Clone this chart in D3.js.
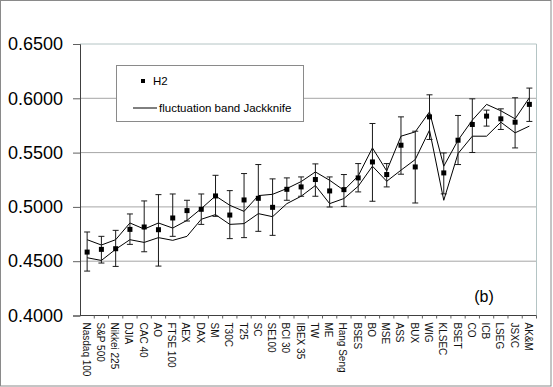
<!DOCTYPE html>
<html>
<head>
<meta charset="utf-8">
<script src="https://cdn.jsdelivr.net/npm/d3@7"></script>
<style>
  body { margin: 0; background: #fff; }
  svg { display: block; font-family: Arial, "Liberation Sans", sans-serif; }
</style>
</head>
<body>
<div id="chart"></div>
<script>
'use strict'

////////////////////////////////////
/////////////// data ///////////////
////////////////////////////////////

const markets = ['Nasdaq 100', 'S&P 500', 'Nikkei 225', 'DJIA', 'CAC 40', 'AO', 'FTSE 100', 'AEX', 'DAX', 'SM',
    'T30C', 'T25', 'SC', 'SE100', 'BCI 30', 'IBEX 35', 'TW', 'ME', 'Hang Seng', 'BSES', 'BO', 'MSE',
    'ASS', 'BUX', 'WIG', 'KLSEC', 'BSET', 'CO', 'ICB', 'LSEG', 'JSXC', 'AK&M']

// H2 point estimate
const h2 = [0.4584, 0.4609, 0.4615, 0.4793, 0.4815, 0.4790, 0.4898, 0.4966, 0.4978, 0.5101,
    0.4925, 0.5064, 0.5079, 0.4996, 0.5162, 0.5184, 0.5252, 0.5147, 0.5159, 0.5267, 0.5414, 0.5298,
    0.5568, 0.5368, 0.5829, 0.5313, 0.5614, 0.5759, 0.5836, 0.5811, 0.5780, 0.5944]

// error bar ends
const errHigh = [0.4769, 0.4729, 0.4784, 0.4935, 0.5055, 0.5113, 0.5119, 0.5061, 0.5119, 0.5291,
    0.5150, 0.5307, 0.5390, 0.5258, 0.5267, 0.5276, 0.5396, 0.5276, 0.5298, 0.5399, 0.5768, 0.5399,
    0.5829, 0.5697, 0.6032, 0.5497, 0.5842, 0.5995, 0.5891, 0.5903, 0.6005, 0.6094]
const errLow = [0.4409, 0.4483, 0.4452, 0.4655, 0.4587, 0.4455, 0.4729, 0.4870, 0.4839, 0.4913,
    0.4708, 0.4717, 0.4775, 0.4738, 0.5061, 0.5098, 0.5098, 0.4999, 0.5005, 0.5138, 0.5052, 0.5184,
    0.5301, 0.5036, 0.5621, 0.5120, 0.5390, 0.5501, 0.5744, 0.5713, 0.5543, 0.5787]

// jackknife fluctuation band
const bandUpper = [0.4698, 0.4649, 0.4698, 0.4852, 0.4796, 0.4852, 0.4805, 0.4876, 0.4984, 0.5101,
    0.5015, 0.4959, 0.5104, 0.5116, 0.5169, 0.5233, 0.5322, 0.5245, 0.5153, 0.5285, 0.5543, 0.5331,
    0.5651, 0.5691, 0.5875, 0.5375, 0.5614, 0.5799, 0.5944, 0.5885, 0.5811, 0.6005]
const bandLower = [0.4532, 0.4507, 0.4610, 0.4698, 0.4673, 0.4717, 0.4692, 0.4729, 0.4886, 0.4929,
    0.4839, 0.4846, 0.4938, 0.4910, 0.5030, 0.5098, 0.5197, 0.5030, 0.5077, 0.5190, 0.5375, 0.5236,
    0.5338, 0.5436, 0.5707, 0.5061, 0.5491, 0.5651, 0.5651, 0.5780, 0.5682, 0.5744]

const yTicks = [0.40, 0.45, 0.50, 0.55, 0.60, 0.65]

////////////////////////////////////
//////////// svg setup /////////////
////////////////////////////////////

const svgWidth = 553, svgHeight = 387
const plot = { left: 80, right: 536.5, top: 44, bottom: 315.5 }

const svg = d3.select('#chart')
    .append('svg')
    .attr('width', svgWidth)
    .attr('height', svgHeight)

// outer frame
svg.append('rect')
    .attr('x', 0.5).attr('y', 0.5)
    .attr('width', 550.5).attr('height', 385.5)
    .attr('fill', 'none')
    .attr('stroke', '#8a8a8a')

const x = d3.scaleBand()
    .domain(markets)
    .range([plot.left, plot.right])

const y = d3.scaleLinear()
    .domain([0.40, 0.65])
    .range([plot.bottom, plot.top])

const cx = d => x(d) + x.bandwidth() / 2

////////////////////////////////////
////////////// axes ////////////////
////////////////////////////////////

// gridlines
svg.append('g')
    .selectAll('line')
    .data(yTicks.filter(t => t > 0.40 && t < 0.65))
    .join('line')
    .attr('x1', plot.left).attr('x2', plot.right)
    .attr('y1', d => y(d)).attr('y2', d => y(d))
    .attr('stroke', '#a6a6a6')

// plot frame top / right
svg.append('path')
    .attr('d', `M${plot.left},${y(0.65)}H${plot.right}V${plot.bottom}`)
    .attr('fill', 'none')
    .attr('stroke', '#b4c4c4')

const yAxis = svg.append('g')
    .attr('transform', `translate(${plot.left},0)`)
    .call(d3.axisLeft(y).tickValues(yTicks).tickFormat(d3.format('.4f')).tickSize(7).tickPadding(10))
yAxis.select('.domain').attr('stroke', '#404040')
yAxis.selectAll('.tick line').attr('stroke', '#606060')
yAxis.selectAll('.tick text')
    .attr('font-size', 18)
    .attr('fill', '#000')
    .attr('font-family', 'Arial, "Liberation Sans", sans-serif')

// x axis with ticks at band boundaries
const xAxis = svg.append('g')
    .attr('transform', `translate(0,${plot.bottom})`)
xAxis.append('line')
    .attr('x1', plot.left).attr('x2', plot.right)
    .attr('stroke', '#404040')
xAxis.selectAll('.bt')
    .data(markets.slice(1).concat(['__end']))
    .join('line')
    .attr('class', 'bt')
    .attr('x1', (d, i) => plot.left + x.step() * (i + 1))
    .attr('x2', (d, i) => plot.left + x.step() * (i + 1))
    .attr('y1', 0).attr('y2', 3)
    .attr('stroke', '#606060')

svg.append('g')
    .selectAll('text')
    .data(markets)
    .join('text')
    .attr('transform', d => `translate(${cx(d) - 1},${plot.bottom + 7}) rotate(90)`)
    .attr('dominant-baseline', 'central')
    .attr('font-size', 10)
    .attr('fill', '#111')
    .text(d => d)

////////////////////////////////////
////////////// marks ///////////////
////////////////////////////////////

const line = d3.line()
    .x((d, i) => cx(markets[i]))
    .y(d => y(d))

svg.selectAll('.band')
    .data([bandUpper, bandLower])
    .join('path')
    .attr('class', 'band')
    .attr('d', line)
    .attr('fill', 'none')
    .attr('stroke', '#000')
    .attr('stroke-width', 1)

const bars = svg.append('g')
    .selectAll('g')
    .data(markets)
    .join('g')
    .attr('stroke', '#1a1a1a')

bars.append('line')
    .attr('x1', d => cx(d)).attr('x2', d => cx(d))
    .attr('y1', (d, i) => y(errHigh[i])).attr('y2', (d, i) => y(errLow[i]))
bars.append('line')
    .attr('x1', d => cx(d) - 3).attr('x2', d => cx(d) + 3)
    .attr('y1', (d, i) => y(errHigh[i])).attr('y2', (d, i) => y(errHigh[i]))
bars.append('line')
    .attr('x1', d => cx(d) - 3).attr('x2', d => cx(d) + 3)
    .attr('y1', (d, i) => y(errLow[i])).attr('y2', (d, i) => y(errLow[i]))

svg.append('g')
    .selectAll('rect')
    .data(markets)
    .join('rect')
    .attr('x', d => cx(d) - 2.5)
    .attr('y', (d, i) => y(h2[i]) - 2.5)
    .attr('width', 5).attr('height', 5)
    .attr('fill', '#000')

////////////////////////////////////
///////////// legend ///////////////
////////////////////////////////////

const legend = svg.append('g')
legend.append('rect')
    .attr('x', 116.5).attr('y', 65.5)
    .attr('width', 187).attr('height', 56)
    .attr('fill', '#fff')
    .attr('stroke', '#8a8a8a')
legend.append('rect')
    .attr('x', 141).attr('y', 79)
    .attr('width', 4).attr('height', 4)
    .attr('fill', '#000')
legend.append('text')
    .attr('x', 153).attr('y', 81)
    .attr('dominant-baseline', 'central')
    .attr('font-size', 11.5)
    .text('H2')
legend.append('line')
    .attr('x1', 133).attr('x2', 157)
    .attr('y1', 108).attr('y2', 108)
    .attr('stroke', '#000')
legend.append('text')
    .attr('x', 159).attr('y', 108)
    .attr('dominant-baseline', 'central')
    .attr('font-size', 11.5)
    .text('fluctuation band Jackknife')

svg.append('text')
    .attr('x', 484).attr('y', 296)
    .attr('text-anchor', 'middle')
    .attr('dominant-baseline', 'central')
    .attr('font-size', 16)
    .text('(b)')
</script>
</body>
</html>
